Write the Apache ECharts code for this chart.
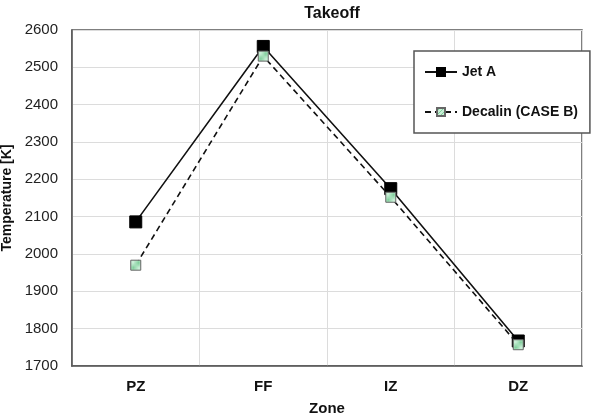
<!DOCTYPE html>
<html>
<head>
<meta charset="utf-8">
<script src="https://cdn.jsdelivr.net/npm/echarts@6/dist/echarts.min.js"></script>
<style>
  html, body { margin: 0; padding: 0; background: #fff; }
  #chart { width: 599px; height: 415px; }
</style>
</head>
<body>
<div id="chart"></div>
<script>
const zones = ['PZ', 'FF', 'IZ', 'DZ']
const jetA = [2086, 2556, 2175, 1767]
const decalin = [1970, 2530, 2152, 1757]
const yTicks = { min: 1700, max: 2600, step: 100 }

// hatched pale green fill for the Decalin markers
function hatch () {
  const c = document.createElement('canvas')
  c.width = 4
  c.height = 4
  const ctx = c.getContext('2d')
  ctx.fillStyle = '#c9eed6'
  ctx.fillRect(0, 0, 4, 4)
  ctx.strokeStyle = '#7fcf9b'
  ctx.lineWidth = 1
  ctx.beginPath()
  ctx.moveTo(0, 4); ctx.lineTo(4, 0)
  ctx.moveTo(-1, 1); ctx.lineTo(1, -1)
  ctx.moveTo(3, 5); ctx.lineTo(5, 3)
  ctx.stroke()
  return c
}

const font = 'Liberation Sans, Arial, sans-serif'
const chart = echarts.init(document.getElementById('chart'))
chart.setOption({
  animation: false,
  textStyle: { fontFamily: font },
  title: {
    text: 'Takeoff',
    left: 327,
    textAlign: 'center',
    top: 1,
    textStyle: { fontSize: 16, fontWeight: 'bold', color: '#111', fontFamily: font }
  },
  grid: {
    left: 72, right: 17, top: 30, bottom: 49,
    outerBoundsMode: 'none',
    containLabel: false,
    show: true, borderColor: '#555', borderWidth: 1.5
  },
  legend: {
    orient: 'vertical',
    left: 414,
    top: 51,
    padding: [14, 12, 14, 10],
    itemGap: 26,
    itemWidth: 32,
    itemHeight: 10,
    borderColor: '#555',
    borderWidth: 1.5,
    backgroundColor: '#fff',
    textStyle: { fontSize: 14, fontWeight: 'bold', color: '#111', fontFamily: font },
    data: ['Jet A', 'Decalin (CASE B)']
  },
  xAxis: {
    type: 'category',
    data: zones,
    name: 'Zone',
    nameLocation: 'middle',
    nameGap: 35,
    nameTextStyle: { fontSize: 15, fontWeight: 'bold', color: '#111' },
    axisLine: { lineStyle: { color: '#555', width: 1.5 } },
    axisTick: { show: false },
    axisLabel: { fontSize: 15, fontWeight: 'bold', color: '#111', margin: 13 },
    splitLine: { show: true, lineStyle: { color: '#dcdcdc', width: 1 } }
  },
  yAxis: {
    type: 'value',
    min: yTicks.min,
    max: yTicks.max,
    interval: yTicks.step,
    name: 'Temperature [K]',
    nameLocation: 'middle',
    nameGap: 52,
    nameTextStyle: { fontSize: 14, fontWeight: 'bold', color: '#111' },
    axisLine: { show: true, lineStyle: { color: '#555', width: 1.5 } },
    axisTick: { show: false },
    axisLabel: { fontSize: 15, color: '#222', margin: 14, formatter: v => String(v) },
    splitLine: { lineStyle: { color: '#dcdcdc', width: 1 } }
  },
  series: [
    {
      name: 'Jet A',
      type: 'line',
      data: jetA,
      symbol: 'rect',
      symbolSize: 12,
      z: 3,
      lineStyle: { color: '#111', width: 1.6 },
      itemStyle: { color: '#000', borderColor: '#000', borderWidth: 1 }
    },
    {
      name: 'Decalin (CASE B)',
      type: 'line',
      data: decalin,
      symbol: 'rect',
      symbolSize: 10,
      z: 4,
      lineStyle: { color: '#111', width: 1.6, type: [6, 4] },
      itemStyle: { color: { image: hatch(), repeat: 'repeat' }, borderColor: '#666', borderWidth: 1 }
    }
  ]
})
</script>
</body>
</html>
